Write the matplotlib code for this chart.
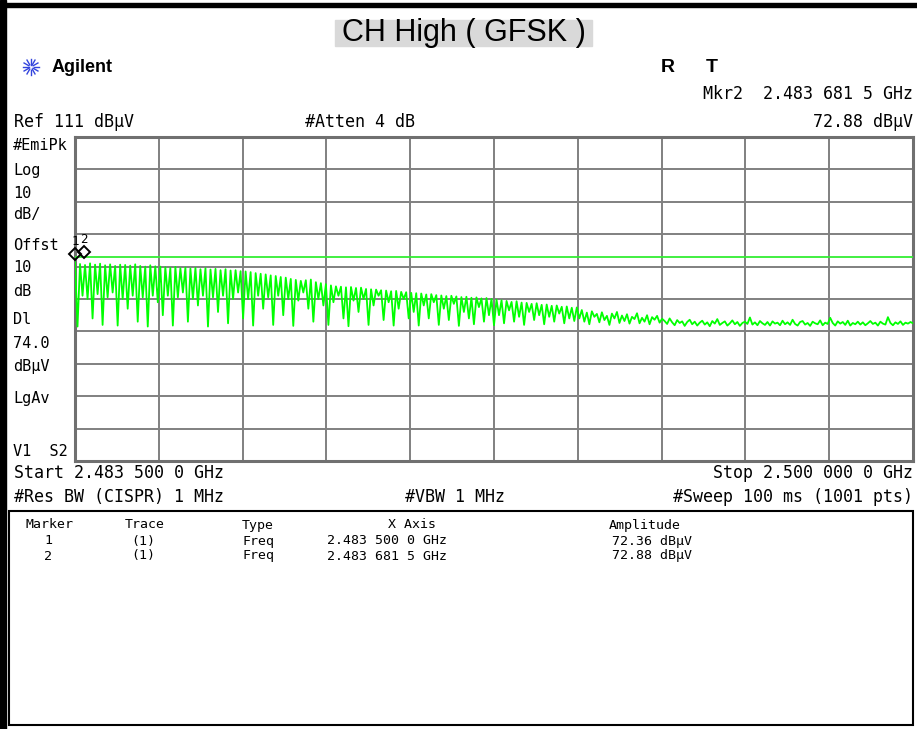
import numpy as np
import matplotlib
matplotlib.use("Agg")
import matplotlib.pyplot as plt
import matplotlib.transforms as mtransforms
from matplotlib.patches import Rectangle

# sweep settings (GHz / dBuV)
start_ghz = 2.4835
stop_ghz = 2.5
ref_level = 111
db_per_div = 10
display_line = 74.0

# trace, left to right (every 3rd sweep point)
trace = [
    # 2.4835 - 2.4852
    72.4, 52.5, 71.8, 62, 71.5, 61, 72, 55, 71.6, 62.5, 71.9, 53, 71.4, 61.5, 71.7, 63, 71.2,
    52.8, 71.6, 61, 71.5, 58, 71.3, 62, 71.7, 54, 71.2, 61.5, 71, 52.5, 71.4, 62, 71.1, 60,
    # 2.4852 - 2.4868
    71, 56, 70.8, 62, 70.6, 52.8, 70.9, 61.5, 70.5, 63, 70.7, 54, 70.4, 61, 70.6, 59, 70.2,
    62, 70.5, 52.5, 70.1, 61.5, 70.3, 57, 69.9, 62, 70.2, 53.5, 69.8, 61, 69.9, 63, 69.6, 55,
    # 2.4868 - 2.4885
    69.5, 61, 69.3, 52.8, 69, 62, 68.8, 58, 68.6, 61.5, 68.3, 53, 68.1, 62, 67.8, 56, 67.6,
    61, 67.2, 52.7, 66.9, 60.5, 66.6, 63, 66.8, 58, 67, 54, 66.2, 61, 65.9, 59, 65.6,
    # 2.4885 - 2.4901
    53, 65.2, 60, 64.9, 62, 64.8, 55, 64.6, 52.6, 64.7, 60.5, 64.4, 57, 64.5, 61, 64.1, 53,
    64, 59, 63.9, 62, 63.7, 54.5, 63.6, 60, 63.4, 52.8, 63.5, 58, 63.2, 61, 63.1, 55, 62.9,
    # 2.4901 - 2.4918
    57, 62.8, 52.8, 62.7, 59, 62.4, 55, 62.5, 60, 62.2, 53, 62.1, 58, 61.9, 54.5, 62, 59.5,
    61.8, 52.7, 61.6, 57, 61.7, 55, 61.4, 53.2, 61.5, 58.5, 61.2, 54, 61.3, 56, 61, 52.9,
    # 2.4918 - 2.4934
    60.8, 56, 60.6, 53.5, 60.4, 57.5, 60.1, 54, 60.3, 55.5, 59.9, 53, 59.8, 57, 59.5, 54.5, 59.7,
    56, 59.2, 53.2, 59.3, 55.5, 58.9, 54, 59, 56.5, 58.6, 53.5, 58.7, 55, 58.3, 54.2, 58.4,
    # 2.4934 - 2.4951
    55, 57.6, 54, 56.8, 53.2, 57.2, 55.5, 56.4, 53.8, 56.9, 54.5, 55.8, 53, 56.5, 55, 57, 53.6,
    55.9, 54.2, 56.3, 53.4, 55.5, 54.8, 56.6, 53.5, 55.2, 54, 56, 53.2, 55.4, 54.6, 55.8, 53.7, 54.9,
    # 2.4951 - 2.5000
    54.2, 53.3, 55, 53.8, 52.9, 54.5, 53.6, 54.1, 52.7, 53.9, 54.6, 53.2, 54, 52.8, 53.7, 54.3, 53.1, 53.8, 52.6, 54.2,
    53.4, 54.8, 53, 53.6, 54.1, 52.8, 53.5, 54.4, 53.2, 53.9, 52.7, 53.6, 54, 53.3, 55.3, 53.1, 53.8, 52.9, 54.2, 53.5,
    53, 53.9, 52.8, 54.1, 53.4, 53.7, 52.9, 54.3, 53.2, 53.8, 53, 54.6, 53.3, 52.8, 53.9, 54.2, 53.1, 53.6, 52.7, 54,
    53.5, 53.2, 54.4, 52.9, 53.7, 53.3, 55.2, 53.6, 52.8, 54.1, 53.4, 53.9, 53, 54.3, 52.8, 53.6, 53.2, 54, 53.1, 53.8,
    52.9, 53.5, 54.2, 53.3, 53.7, 52.8, 54, 53.4, 53.1, 55.4, 53.6, 52.9, 53.8, 53.3, 54.1, 53, 53.7, 53.4, 53.9, 53.5,
]

# marker table
marker_ids = ["1", "2"]
marker_freq = [2.4835000, 2.4836815]
marker_amp = [72.36, 72.88]
marker_freq_txt = ["2.483 500 0 GHz", "2.483 681 5 GHz"]
marker_amp_txt = ["72.36 dB\u00b5V", "72.88 dB\u00b5V"]

left_labels = ["#EmiPk", "Log", "10", "dB/", "Offst", "10", "dB", "Dl", "74.0", "dB\u00b5V", "LgAv", "V1  S2"]
left_label_y = [145, 170, 193, 215, 246, 267, 291, 320, 344, 367, 399, 452]

W, H = 917, 729
fig = plt.figure(figsize=(W / 100, H / 100), dpi=100)
fig.patch.set_facecolor("white")

def px(x, y):
    return x / W, 1 - y / H

mono = "DejaVu Sans Mono"
narrow = ["Liberation Sans Narrow", "Liberation Sans"]

# screen area
ax = fig.add_axes([75 / W, 1 - 461 / H, 838 / W, 324 / H])
ax.set_xlim(start_ghz, stop_ghz)
ax.set_ylim(ref_level - 10 * db_per_div, ref_level)
ax.set_xticks(np.linspace(start_ghz, stop_ghz, 11))
ax.set_yticks(np.arange(ref_level - 10 * db_per_div, ref_level + 1, db_per_div))
ax.tick_params(length=0, labelbottom=False, labelleft=False)
ax.grid(True, color="#808080", linewidth=1.4)
for s in ax.spines.values():
    s.set_color("#707070")
    s.set_linewidth(2.2)

freq = np.linspace(start_ghz, stop_ghz, len(trace))
ax.plot(freq, trace, color="#00ff00", linewidth=1.3, zorder=3)
ax.axhline(display_line, color="#33ee33", linewidth=1.3, zorder=3)

# marker diamonds sit a few pixels above the trace point
off = mtransforms.offset_copy(ax.transData, fig=fig, x=0, y=6, units="points")
ax.plot(marker_freq, marker_amp, linestyle="none", marker="D", markersize=6,
        markerfacecolor="none", markeredgecolor="black", markeredgewidth=1.4,
        transform=off, clip_on=False, zorder=4)
for mid, f, a in zip(marker_ids, marker_freq, marker_amp):
    ax.annotate(mid, (f, a), xytext=(0, 15), textcoords="offset points",
                ha="center", va="center", fontsize=9, family=mono, annotation_clip=False)

# frame bits
fig.add_artist(Rectangle(px(0, 729), 6 / W, 729 / H, transform=fig.transFigure, color="black"))
fig.add_artist(Rectangle(px(0, 7), 1, 4 / H, transform=fig.transFigure, color="black"))

# title
fig.add_artist(Rectangle(px(335, 46), 257 / W, 26 / H, transform=fig.transFigure, color="#d9d9d9"))
fig.text(*px(464, 33), "CH High ( GFSK )", ha="center", va="center", fontsize=22,
         family="Liberation Sans")

# Agilent logo
cx, cy = px(31, 67)
for ang in np.arange(0, 360, 30):
    r0, r1 = 2.5, 8
    dx, dy = np.cos(np.radians(ang)), np.sin(np.radians(ang))
    fig.add_artist(plt.Line2D([cx + r0 * dx / W, cx + r1 * dx / W], [cy + r0 * dy / H, cy + r1 * dy / H],
                              transform=fig.transFigure, color="#3344dd", linewidth=1.0))
fig.text(*px(52, 67), "Agilent", ha="left", va="center", fontsize=13, weight="bold", family=narrow)
fig.text(*px(668, 67), "R", ha="center", va="center", fontsize=14, weight="bold", family=narrow)
fig.text(*px(712, 67), "T", ha="center", va="center", fontsize=14, weight="bold", family=narrow)

fs = 12
fig.text(*px(913, 94), "Mkr2  2.483 681 5 GHz", ha="right", va="center", fontsize=fs, family=mono)
fig.text(*px(14, 122), "Ref 111 dB\u00b5V", ha="left", va="center", fontsize=fs, family=mono)
fig.text(*px(305, 122), "#Atten 4 dB", ha="left", va="center", fontsize=fs, family=mono)
fig.text(*px(913, 122), "72.88 dB\u00b5V", ha="right", va="center", fontsize=fs, family=mono)

for lab, yy in zip(left_labels, left_label_y):
    fig.text(*px(13, yy), lab, ha="left", va="center", fontsize=fs - 1, family=mono)

fig.text(*px(14, 473), "Start 2.483 500 0 GHz", ha="left", va="center", fontsize=fs, family=mono)
fig.text(*px(913, 473), "Stop 2.500 000 0 GHz", ha="right", va="center", fontsize=fs, family=mono)
fig.text(*px(14, 497), "#Res BW (CISPR) 1 MHz", ha="left", va="center", fontsize=fs, family=mono)
fig.text(*px(455, 497), "#VBW 1 MHz", ha="center", va="center", fontsize=fs, family=mono)
fig.text(*px(913, 497), "#Sweep 100 ms (1001 pts)", ha="right", va="center", fontsize=fs, family=mono)

# marker table box
fig.add_artist(Rectangle(px(9, 725), 904 / W, 214 / H, transform=fig.transFigure,
                         facecolor="none", edgecolor="black", linewidth=1.5))
tfs = 9.5
cols = [(50, "Marker"), (145, "Trace"), (258, "Type"), (412, "X Axis"), (645, "Amplitude")]
for x, lab in cols:
    fig.text(*px(x, 525), lab, ha="center", va="center", fontsize=tfs, family=mono)
for i, (mid, ftxt, atxt) in enumerate(zip(marker_ids, marker_freq_txt, marker_amp_txt)):
    y = 541 + 15 * i
    fig.text(*px(48, y), mid, ha="center", va="center", fontsize=tfs, family=mono)
    fig.text(*px(143, y), "(1)", ha="center", va="center", fontsize=tfs, family=mono)
    fig.text(*px(258, y), "Freq", ha="center", va="center", fontsize=tfs, family=mono)
    fig.text(*px(327, y), ftxt, ha="left", va="center", fontsize=tfs, family=mono)
    fig.text(*px(612, y), atxt, ha="left", va="center", fontsize=tfs, family=mono)

fig.savefig("out.png", dpi=100)
